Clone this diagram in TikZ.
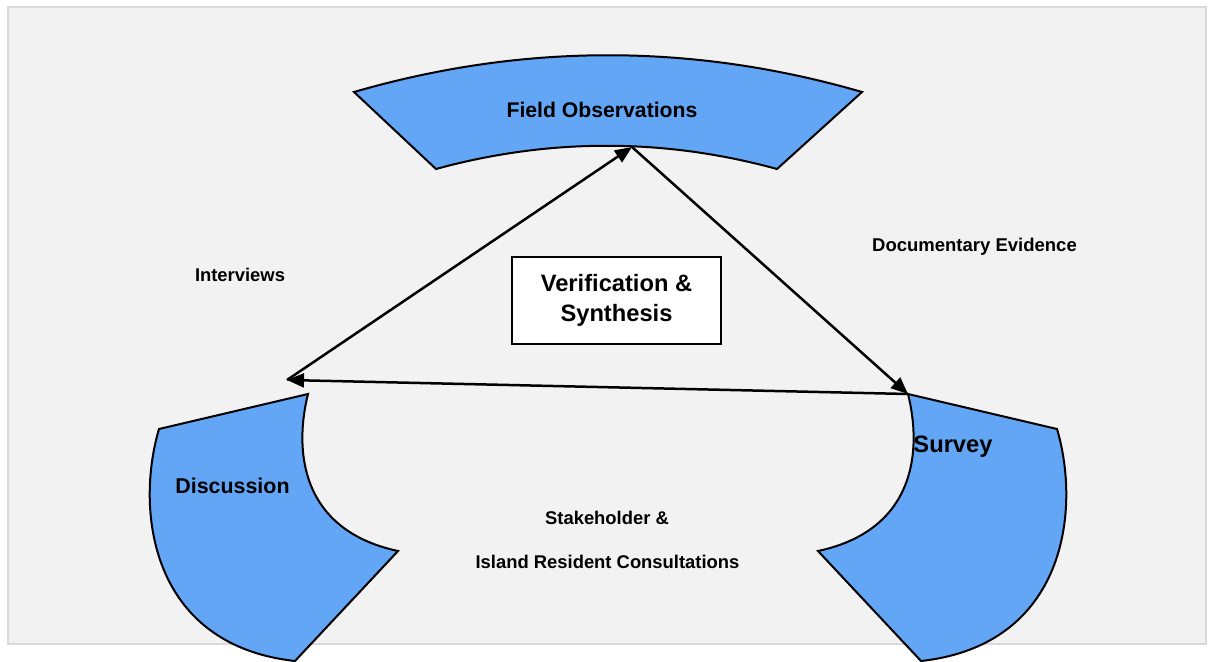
\documentclass[tikz,border=0pt]{standalone}
\usepackage{fontspec}
\setmainfont{Liberation Sans}
\usetikzlibrary{arrows.meta}
\definecolor{shapeblue}{RGB}{98,166,245}
\definecolor{bgfill}{RGB}{242,242,242}
\definecolor{bgline}{RGB}{217,217,217}
\tikzset{
  blockshape/.style={fill=shapeblue, draw=black, line width=2pt, line join=miter},
  lbl/.style={anchor=base, inner sep=0pt, font=\bfseries\fontsize{#1}{#1}\selectfont},
  flow/.style={line width=2.5pt, -{Triangle[length=17pt,width=14pt]}},
  vsbox/.style={draw=black, fill=white, line width=1.5pt, minimum width=209pt, minimum height=87pt, inner sep=0pt}
}
\begin{document}
\begin{tikzpicture}[x=1pt,y=-1pt]
\useasboundingbox (0,0) rectangle (1209,661);
\fill[white] (0,0) rectangle (1209,661);
\draw[fill=bgfill, draw=bgline, line width=2pt] (8,7) rectangle (1206,644);

% top block arc
\draw[blockshape] (354,92) .. controls (523,43) and (693,43) .. (862,92)
  -- (777,169) .. controls (664,138) and (549,138) .. (436,169) -- cycle;

% left block (Discussion)
\draw[blockshape] (308,394) -- (159,429)
  .. controls (135,510) and (150,645) .. (295,661)
  -- (398,551)
  .. controls (300,530) and (294,450) .. (308,394)
  -- cycle;

% right block (Survey)
\draw[blockshape] (908,394) -- (1057,429)
  .. controls (1081,510) and (1066,645) .. (921,661)
  -- (818,551)
  .. controls (916,530) and (922,450) .. (908,394)
  -- cycle;

% labels
\node[lbl=21.2] (fo) at (602,117) {Field Observations};
\node[lbl=21.4] (disc) at (232.5,493) {Discussion};
\node[lbl=23.7] (surv) at (953,452.5) {Survey};
\node[lbl=18.4] (intv) at (240,281) {Interviews};
\node[lbl=18.5] (doc) at (974.5,251) {Documentary Evidence};
\node[lbl=18.4] (stake) at (607,524.3) {Stakeholder \&};
\node[lbl=18.4] (isl) at (607.5,568.3) {Island Resident Consultations};

% verification box
\node[vsbox] (vs) at (616.5,300.5) {};
\node[align=center, inner sep=0pt, font=\bfseries\fontsize{23.7}{29.8}\selectfont] (vstext) at ([yshift=0pt]vs.center) {Verification \&\\Synthesis};

% connectors
\coordinate (fotip) at (632,147);
\coordinate (disctip) at (287,380);
\coordinate (survtip) at (908,394);
\draw[flow] (disctip) -- (fotip);
\draw[flow] (fotip) -- (survtip);
\draw[flow] (survtip) -- (disctip);
\end{tikzpicture}
\end{document}
